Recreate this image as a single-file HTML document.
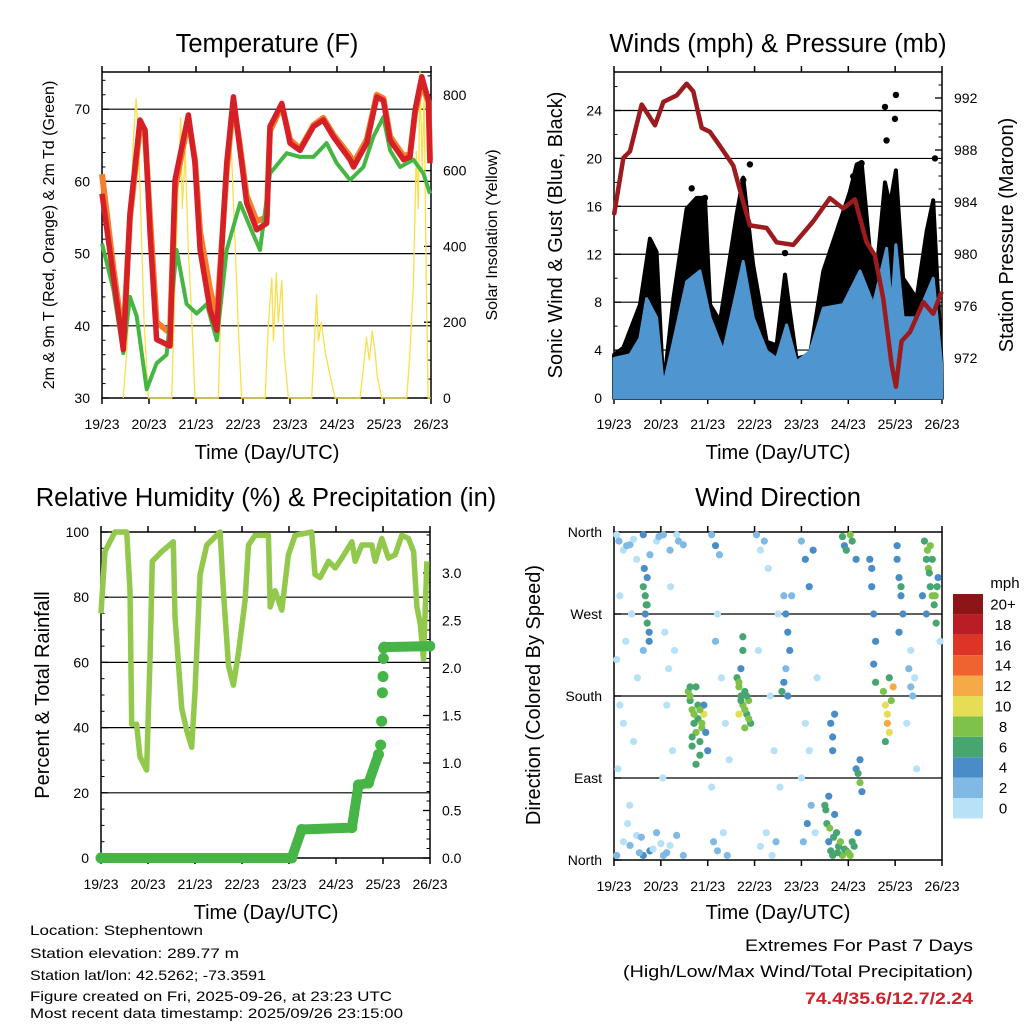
<!DOCTYPE html>
<html><head><meta charset="utf-8"><style>
html,body{margin:0;padding:0;background:#fff;}
svg{display:block;font-family:"Liberation Sans",sans-serif;}
</style></head><body>
<svg id="chart" width="1024" height="1024" viewBox="0 0 1024 1024" xmlns="http://www.w3.org/2000/svg">
<rect width="1024" height="1024" fill="#fff"/>
<g id="layer"></g>
<text x="267" y="52" font-size="25.5" text-anchor="middle">Temperature (F)</text>
<text x="778" y="52" font-size="25.5" text-anchor="middle">Winds (mph) &amp; Pressure (mb)</text>
<text x="266" y="506" font-size="25.5" text-anchor="middle">Relative Humidity (%) &amp; Precipitation (in)</text>
<text x="778" y="506" font-size="25.5" text-anchor="middle">Wind Direction</text>
<text transform="translate(54,235) rotate(-90)" font-size="16" text-anchor="middle">2m &amp; 9m T (Red, Orange) &amp; 2m Td (Green)</text>
<text transform="translate(497,235) rotate(-90)" font-size="16" text-anchor="middle">Solar Insolation (Yellow)</text>
<text transform="translate(562,235) rotate(-90)" font-size="20" text-anchor="middle">Sonic Wind &amp; Gust (Blue, Black)</text>
<text transform="translate(1013,235) rotate(-90)" font-size="20" text-anchor="middle">Station Pressure (Maroon)</text>
<text transform="translate(49,695) rotate(-90)" font-size="20" text-anchor="middle">Percent &amp; Total Rainfall</text>
<text transform="translate(540,695) rotate(-90)" font-size="20" text-anchor="middle">Direction (Colored By Speed)</text>
<text x="267" y="459" font-size="20" text-anchor="middle">Time (Day/UTC)</text>
<text x="778" y="459" font-size="20" text-anchor="middle">Time (Day/UTC)</text>
<text x="266" y="919" font-size="20" text-anchor="middle">Time (Day/UTC)</text>
<text x="778" y="919" font-size="20" text-anchor="middle">Time (Day/UTC)</text>
<g font-size="14">
<text x="30" y="935" textLength="173" lengthAdjust="spacingAndGlyphs">Location: Stephentown</text>
<text x="30" y="958" textLength="209" lengthAdjust="spacingAndGlyphs">Station elevation: 289.77 m</text>
<text x="30" y="980" textLength="236" lengthAdjust="spacingAndGlyphs">Station lat/lon: 42.5262; -73.3591</text>
<text x="30" y="1001" textLength="362" lengthAdjust="spacingAndGlyphs">Figure created on Fri, 2025-09-26, at 23:23 UTC</text>
<text x="30" y="1018" textLength="373" lengthAdjust="spacingAndGlyphs">Most recent data timestamp: 2025/09/26 23:15:00</text>
</g>
<text x="973" y="951" font-size="17" text-anchor="end" textLength="228" lengthAdjust="spacingAndGlyphs">Extremes For Past 7 Days</text>
<text x="973" y="977" font-size="17" text-anchor="end" textLength="350" lengthAdjust="spacingAndGlyphs">(High/Low/Max Wind/Total Precipitation)</text>
<text x="973" y="1004" font-size="17" font-weight="bold" fill="#cc2229" text-anchor="end" textLength="168" lengthAdjust="spacingAndGlyphs">74.4/35.6/12.7/2.24</text>
</svg>
<script>
// ---------- DATA ----------
const dayLabels = ["19/23","20/23","21/23","22/23","23/23","24/23","25/23","26/23"];
const tempTicks = [30,40,50,60,70];
const solarTicks = [0,200,400,600,800];
const windTicks = [0,4,8,12,16,20,24];
const pressTicks = [972,976,980,984,988,992];
const rhTicks = [0,20,40,60,80,100];
const precipTicks = [0,0.5,1,1.5,2,2.5,3];
const dirTicks = [0,90,180,270,360];
const dirLabels = ["North","East","South","West","North"];

const tHours = [0,5.8,10.9,14.3,19.4,22,24.5,27.9,34.7,37.3,44.1,47.5,50.1,55.2,58.6,63.7,67.1,70.5,73.9,79,84.1,85.8,91.8,96,101.1,108,113,118.1,126.7,128.4,135.2,140.3,143.7,147.1,154,157.3,159.9,163.3,166.7,167.5];
const t2Vals = [58.3,46.8,36.7,55.6,68.5,67.1,53,38.1,37.2,60.2,69.2,62.5,50.5,42.2,39.4,62.5,71.7,64.3,57,53.3,54.2,67.6,70.8,65.3,64.3,67.6,68.5,66.2,63,62,65.3,71.7,71.2,65.7,63,63.4,69.9,74.5,71.2,62.5];
const t9Vals = [61,48,38,55,67.5,66.5,55,40.5,39,59,68.5,63,53,45,41,61.5,71,64.8,58,54.5,55,67,70.5,65.8,64.5,67.8,68.8,66.5,63.5,62.5,65.8,72,71.5,66.2,63.5,63.8,69.5,73.5,71,63];
const tdHours = [0,5.8,10.9,14.3,17.7,22.8,27.9,33,38.1,43.2,48.3,53.5,58.6,63.7,70.5,75.6,80.7,85.8,94.3,101.1,108,114.7,119.9,126.7,133.5,138.6,143.7,147.1,152.2,159,164.1,167.5];
const tdVals = [51.4,45,36.2,44,41.3,31.2,34.8,36,50.5,43,41.7,43,38,50.5,57,53.7,50.5,61.1,63.9,63.4,63.4,65.3,62.5,60.2,62,66.2,68.9,64.3,62,63,61.1,58.3];
const solarHours = [10.9,13,14.5,16,17.4,18.5,20,21.5,23.7, 35.6,37,38.5,40.2,41,42.5,44,45.5,47.5, 59.4,61,63,65.4,66.5,68,69.5,71.3, 83.3,85,86.7,87.5,89,90,91.8,93,95.2, 107.1,108.5,109.6,110.5,112,114,116,119, 131.8,133.5,135,136.5,138,139.5,140.5,142.8, 155.6,157,159,160.5,161.5,162.4,163.5,164.5,165.5,166.5,168];
const solarVals = [0,150,450,680,790,700,450,200,0, 0,250,500,738,500,650,400,250,0, 0,300,600,738,600,400,200,0, 0,200,316,150,330,200,310,120,0, 0,150,272,150,200,120,70,0, 0,80,160,100,176,120,60,0, 0,100,300,650,500,861,600,800,350,0,0];

const pressHours = [0,4.8,8.2,14.2,21,25.3,32.1,37.2,40.6,44.9,49.1,54.3,61.1,66.2,69.6,78.2,83.3,91.8,102,110.6,117.4,123.4,129.4,133.6,137.9,142.2,144.4,147.3,151.6,158.4,163.5,167.8];
const pressVals = [983,987.4,987.9,991.5,989.9,991.7,992.2,993.1,992.5,989.7,989.4,988.3,986.8,984,982.2,982,980.9,980.7,982.5,984.3,983.5,984.2,980.9,979.9,976.6,971.5,969.8,973.3,974,976.3,975.4,977.1];
const windHours = [0,8.2,13.3,16.7,21.8,25.3,30.4,37.2,44,49.2,56,62.8,66.2,71.3,78.2,83.3,88.4,93.5,100.4,107.2,117.4,126,132.8,139.6,142.2,144.4,148.1,155,163.5,167.8];
const windVals = [3.3,3.6,5,8.3,6.7,1,4.7,9.7,10.6,6.7,3.9,8.9,11.4,6.7,3.9,3.3,6.1,3,3.9,7.5,7.8,10.6,7.8,12.5,7.5,12.8,6.7,6.7,10,2.8];
const gustHours = [0,4.8,13.3,18.4,21.8,25.3,30.4,37.2,42.3,46.6,49.2,54.3,62.8,66.2,71.3,78.2,83.3,87.6,90.1,93.5,100.4,107.2,114,120.8,124.3,126.8,131.1,134.5,138.8,141.3,144.4,148.1,155,160.1,163.5,167.8];
const gustVals = [3.6,4.2,7.8,13.3,12.2,0.8,8.3,15.8,16.7,16.7,7.8,6.4,15.3,18.4,11.1,4.7,4.4,10.3,7.2,3.3,3.6,10.6,13.9,17.2,19.5,19.7,12.2,10.6,18,16.1,19,10,8.3,13.9,16.5,2.8];
const gustDotHours = [138.8,144.4,143.9,139.6,164.4,69.6,126.8,122.5,39.8,46.6,87.6,66.2];
const gustDotVals = [24.3,25.3,23.3,21.5,20,19.5,19.6,18.5,17.5,16.7,12.1,18.2];

const rhHours = [0,2,5.4,7.1,13.1,14.8,15.7,18.2,19.9,23.3,25,26.2,31,36.9,37.8,41.2,43.8,46.3,48,50.6,54,60.8,62.5,65.1,67.6,70.2,73.6,75.3,78.7,85.5,86.4,88.9,92.3,95.7,99.1,107.6,109.3,111.9,116.2,119.6,123,128.1,129.8,133.2,138.3,140,143.4,146.8,150.2,153.6,157,159.6,161.3,163,164.7,166.4];
const rhVals = [75,94,98,100,100,82,41,41,31,27,61,91,94,97,74,46,39,34,51,87,96,100,82,59,53,63,79,96,99,99,77,82,76,93,99,100,87,86,91,89,92,97,91,96,96,91,98,92,93,99,98,94,77,72,61,91];
const precipHours = [0,97.4,102.5,128.1,131.5,136.6,141.7,142.8,143.3,143.7,144,144.2,144.3,144.6,167.9];
const precipVals = [0,0,0.30,0.32,0.77,0.79,1.09,1.19,1.44,1.74,1.91,2.10,2.21,2.22,2.23];

const dirHours = [1.4,1.4,4.8,4.8,8.2,8.2,11.6,11.6,15,15,18.4,18.4,21.8,21.8,25.3,25.3,28.7,28.7,32.1,32.1,35.5,35.5,1.4,3,4.8,2,6,3,9,12,10,8,
15,16,17,16,17,18,15.5,17,18,16.5,15,26,28,27,30,25,31,29,
38,39,40,41,42,43,44,45,46,39,40,44,42,46,47,48,
50,52,54,51,53,56,58,52,55,57,50,59,53,
63,64,65,66,67,68,69,70,65,66,64,67,66,
73,75,77,79,81,83,75,78,74,80,82,85,84,
87,88,89,90,88,87,86,89,91,
96,98,100,102,97,99,101,103,98,100,104,96,
108,109,110,111,112,113,114,115,117,119,121,123,125,110,
117,118,119,121,122,124,111,112,113,112,124,125,126,127,126,
131,132,133,134,133,134,132,
138,139,140,140,141,142,143,141,139,
145,146,147,148,146,147,145,
151,152,153,154,152,150,155,
159,160,161,162,163,164,165,162,166,160,158,167,
2.5,6.5,10,13,20,23,27,33,7,14,24,
39,41,43,45,40,42,44,
64,65,67,68,69,
108.5,110.5,112.5,114.5,116,118,120,122,
160.5,161.5,163,164.5,165.5];
const dirDegs = [357,5,340,20,346,16,330,27,357,5,335,10,350,30,357,5,340,16,357,27,346,5,220,170,150,100,240,290,270,200,130,60,
300,290,280,270,260,250,320,310,240,280,230,250,210,170,120,90,230,300,
185,175,165,150,140,155,130,145,170,190,125,115,105,160,140,120,
357,345,335,20,10,30,5,240,200,150,80,110,270,
200,190,180,170,185,160,175,150,210,230,160,145,245,
357,340,350,320,5,20,15,30,230,180,120,80,270,
290,270,250,230,210,195,185,180,290,
350,330,300,340,20,40,60,30,150,120,200,90,
60,40,20,10,5,50,30,15,5,10,5,15,30,70,
355,345,340,357,350,330,150,135,160,120,100,95,85,75,110,
330,300,270,240,215,195,320,
185,170,160,150,140,175,190,200,130,
330,310,290,270,250,300,345,
210,190,180,200,230,150,100,
350,330,320,300,290,280,260,345,310,270,290,240,
350,345,352,8,12,355,8,350,40,25,18,
180,160,170,150,135,190,165,
195,175,165,180,155,
55,35,25,8,20,12,8,20,
340,315,330,290,300];
const dirSpeeds = [1,3,1,1,3,3,1,1,5,5,3,5,1,3,3,3,3,1,1,3,3,3,1,1,1,1,1,1,1,1,1,1,
7,7,7,5,7,5,5,5,5,7,3,1,1,1,1,1,1,1,
9,7,9,7,9,7,7,9,5,7,7,6,6,11,5,5,
3,5,3,3,3,1,3,3,1,1,1,1,1,
7,9,7,9,7,7,9,7,5,7,11,9,7,
3,1,3,1,1,3,1,1,1,1,1,1,1,
3,5,5,5,3,5,7,5,3,
3,5,5,5,3,5,3,1,1,1,1,1,
7,7,5,7,7,5,7,7,9,7,9,7,5,5,
7,5,7,9,7,5,5,5,5,5,5,7,9,5,5,
5,5,5,5,5,7,5,
9,11,11,13,11,9,13,7,7,
5,5,5,5,5,7,5,
3,3,3,1,1,1,1,
7,7,9,7,9,7,7,9,5,5,5,1,
3,3,1,3,1,3,3,3,1,3,1,
9,9,7,9,7,7,9,
9,7,9,7,9,
7,9,7,7,9,7,9,7,
9,7,7,9,7];
const speedBins = ["0","2","4","6","8","10","12","14","16","18","20+"];
const speedColors = ["#b7e1f6","#80bae4","#4a8dc6","#47a56f","#7fc24b","#e4dd55","#f6aa47","#ef6331","#dc3528","#bb1d24","#8c1518"];

// ---------- HELPERS ----------
const NS = "http://www.w3.org/2000/svg";
const layer = document.getElementById("layer");
function mk(tag, attrs, parent) {
  const e = document.createElementNS(NS, tag);
  for (const k in attrs) e.setAttribute(k, attrs[k]);
  (parent || layer).appendChild(e);
  return e;
}
function linX(x0, x1) { return h => x0 + h / 168 * (x1 - x0); }
function linY(v0, v1, y0, y1) { return v => y0 + (v - v0) / (v1 - v0) * (y1 - y0); }

const P1 = {x0:102, x1:431, top:72, bot:398};
const P2 = {x0:614, x1:942, top:72, bot:398};
const P3 = {x0:101, x1:430, top:532, bot:858};
const P4 = {x0:614, x1:942, top:532, bot:860};
const x1s = linX(P1.x0, P1.x1), x2s = linX(P2.x0, P2.x1), x3s = linX(P3.x0, P3.x1), x4s = linX(P4.x0, P4.x1);
const yT = linY(30, 70, 398, 109.2);
const ySol = linY(0, 800, 398, 94.8);
const yW = linY(0, 24, 398, 110.5);
const yP = linY(992, 972, 98, 358);
const yRH = linY(0, 100, 858, 532);
const yPr = linY(0, 3, 858, 573);
const yDir = linY(0, 360, 860, 532);

function pts(hs, vs, xs, ys) { return hs.map((h, i) => xs(h).toFixed(1) + "," + ys(vs[i]).toFixed(1)).join(" "); }

function frame(P, name, xs) {
  const g = mk("g", {});
  
  
  for (let d = 0; d <= 7; d++) {
    const x = xs(d * 24);
    const tb = mk("line", {x1:x, x2:x, y1:P.bot, y2:P.bot + 6, stroke:"#000", "stroke-width":1.5}, g);
    
    
    const tt = mk("line", {x1:x, x2:x, y1:P.top, y2:P.top - 6, stroke:"#000", "stroke-width":1.5}, g);
    
    
    const lb = mk("text", {x:x, y:P.bot + 31, "font-size":14, "text-anchor":"middle"}, g);
    lb.textContent = dayLabels[d];
    
    
  }
  return g;
}
function border(P, g) {
  const r = mk("rect", {x:P.x0, y:P.top, width:P.x1 - P.x0, height:P.bot - P.top, fill:"none", stroke:"#000", "stroke-width":1.5}, g);
  
  
}
function grid(P, ys, vals, g) {
  vals.forEach(v => {
    const y = ys(v);
    if (Math.abs(y - P.top) < 2 || Math.abs(y - P.bot) < 2) return;
    const l = mk("line", {x1:P.x0, x2:P.x1, y1:y, y2:y, stroke:"#000", "stroke-width":1.2}, g);
    
    
  });
}
function yTicks(P, ys, vals, labels, side, g, minorStep, vmin, vmax) {
  const x = side === "left" ? P.x0 : P.x1;
  const dir = side === "left" ? 1 : -1;
  if (minorStep) {
    for (let v = vmin; v <= vmax + 1e-9; v += minorStep) {
      const y = ys(v);
      if (y < P.top - 0.5 || y > P.bot + 0.5) continue;
      const m = mk("line", {x1:x, x2:x + dir * 3.5, y1:y, y2:y, stroke:"#000", "stroke-width":1}, g);
      
      
    }
  }
  vals.forEach((v, i) => {
    const y = ys(v);
    const t = mk("line", {x1:x, x2:x + dir * 7, y1:y, y2:y, stroke:"#000", "stroke-width":1.3}, g);
    
    
    const lb = mk("text", {x: side === "left" ? x - 12 : x + 12, y: y + 5, "font-size":14, "text-anchor": side === "left" ? "end" : "start"}, g);
    lb.textContent = labels[i];
    
    
  });
}

// ---------- PANEL 1: TEMPERATURE ----------
const g1 = frame(P1, "temperature", x1s);
grid(P1, yT, tempTicks, g1);
const solarLine = mk("polyline", {points:pts(solarHours, solarVals, x1s, ySol), fill:"none", stroke:"#f9df4a", "stroke-width":1.3, "stroke-linejoin":"round"});


const t9Line = mk("polyline", {points:pts(tHours, t9Vals, x1s, yT), fill:"none", stroke:"#f47f2c", "stroke-width":6, "stroke-linejoin":"round"});


const tdLine = mk("polyline", {points:pts(tdHours, tdVals, x1s, yT), fill:"none", stroke:"#46b642", "stroke-width":4, "stroke-linejoin":"round"});


const t2Line = mk("polyline", {points:pts(tHours, t2Vals, x1s, yT), fill:"none", stroke:"#d52027", "stroke-width":5.5, "stroke-linejoin":"round"});


border(P1, g1);
yTicks(P1, yT, tempTicks, tempTicks.map(String), "left", g1, 2, 30, 76);
yTicks(P1, ySol, solarTicks, solarTicks.map(String), "right", g1, 50, 0, 850);

// ---------- PANEL 2: WINDS & PRESSURE ----------
const g2 = frame(P2, "winds", x2s);
const gustArea = mk("polygon", {points: x2s(0) + "," + yW(0) + " " + pts(gustHours, gustVals, x2s, yW) + " " + x2s(168) + "," + yW(0), fill:"#000", stroke:"#000", "stroke-width":4, "stroke-linejoin":"round"});


gustDotHours.forEach((h, i) => {
  const c = mk("circle", {cx:x2s(h), cy:yW(gustDotVals[i]), r:3.2, fill:"#000"});
  
  
});
const windArea = mk("polygon", {points: x2s(0) + "," + yW(0) + " " + pts(windHours, windVals, x2s, yW) + " " + x2s(168) + "," + yW(0), fill:"#4f95d0", stroke:"#4f95d0", "stroke-width":3, "stroke-linejoin":"round"});


grid(P2, yW, windTicks, g2);
const pLine = mk("polyline", {points:pts(pressHours, pressVals, x2s, yP), fill:"none", stroke:"#9b1b1e", "stroke-width":4.5, "stroke-linejoin":"round"});


border(P2, g2);
yTicks(P2, yW, windTicks, windTicks.map(String), "left", g2, 2, 0, 26);
yTicks(P2, yP, pressTicks, pressTicks.map(String), "right", g2, 1, 969, 994);

// ---------- PANEL 3: RH & PRECIP ----------
const g3 = frame(P3, "humidity", x3s);
grid(P3, yRH, rhTicks, g3);
const rhLine = mk("polyline", {points:pts(rhHours, rhVals, x3s, yRH), fill:"none", stroke:"#92c94d", "stroke-width":5.5, "stroke-linejoin":"round"});


const prLine = mk("polyline", {points:pts(precipHours.slice(0,7), precipVals.slice(0,7), x3s, yPr), fill:"none", stroke:"#46b447", "stroke-width":10, "stroke-linejoin":"round", "stroke-linecap":"round"});


const prLine2 = mk("polyline", {points:pts(precipHours.slice(13), precipVals.slice(13), x3s, yPr), fill:"none", stroke:"#46b447", "stroke-width":10, "stroke-linecap":"round"});


precipHours.forEach((h, i) => {
  const c = mk("circle", {cx:x3s(h), cy:yPr(precipVals[i]), r:5.5, fill:"#46b447"});
  
  
});
border(P3, g3);
yTicks(P3, yRH, rhTicks, rhTicks.map(String), "left", g3, 5, 0, 100);
yTicks(P3, yPr, precipTicks, precipTicks.map(v => v.toFixed(1)), "right", g3, 0.1, 0, 3.4);

// ---------- PANEL 4: WIND DIRECTION ----------
const g4 = frame(P4, "wind-direction", x4s);
dirHours.forEach((h, i) => {
  const s = dirSpeeds[i];
  const bin = Math.min(10, Math.floor(s / 2));
  const c = mk("circle", {cx:x4s(h), cy:yDir(dirDegs[i]), r:3.6, fill:speedColors[bin]});
  
  
});
grid(P4, yDir, dirTicks, g4);
border(P4, g4);
yTicks(P4, yDir, dirTicks, dirLabels, "left", g4, 0, 0, 0);
// legend
const lg = mk("g", {});


const lt = mk("text", {x:1005, y:588, "font-size":15, "text-anchor":"middle"}, lg);
lt.textContent = "mph";


speedBins.forEach((b, i) => {
  const j = speedBins.length - 1 - i;
  const y = 594 + j * 20.4;
  const r = mk("rect", {x:953, y:y, width:30, height:20.4, fill:speedColors[i]}, lg);
  
  
  const t = mk("text", {x:1003, y:y + 15.5, "font-size":15, "text-anchor":"middle"}, lg);
  t.textContent = b;
  
  
});
</script>
</body></html>
